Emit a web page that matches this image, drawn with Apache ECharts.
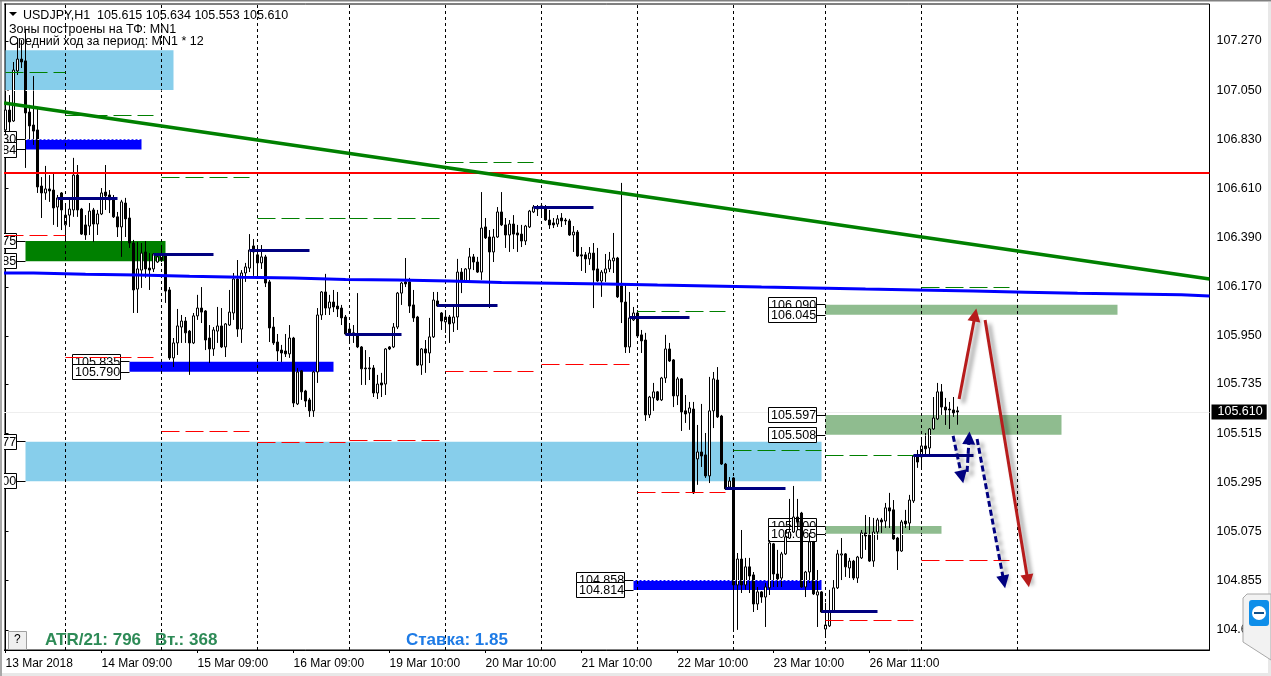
<!DOCTYPE html>
<html lang="en">
<head>
	<meta charset="UTF-8">
	<title>USDJPY,H1</title>
	<script type="text/javascript" src="https://cdn.jsdelivr.net/npm/echarts@6/dist/echarts.min.js"></script>
	<style type="text/css">
	html,body{margin: 0;padding: 0;background: #fff;}
	#container{width: 1271px;height: 676px;}
	</style>
</head>
<body>
	<div id="container"></div>
	<script type="text/javascript">
		// candles per day: [open, close, low, high]
		var mar13 = [[106.872,106.961,106.849,106.988],[106.961,106.908,106.863,107.028],[106.912,107.140,106.908,107.176],[107.136,107.189,107.118,107.283],[107.189,107.176,107.149,107.274],[107.181,106.948,106.702,107.319],[106.952,106.890,106.827,106.984],[106.894,106.867,106.805,107.113],[106.872,106.617,106.590,106.975],[106.621,106.590,106.478,106.661],[106.590,106.608,106.559,106.711],[106.608,106.599,106.550,106.670],[106.603,106.523,106.447,106.675],[106.527,106.568,106.438,106.581],[106.590,106.514,106.424,106.594]];
		var mar14 = [[106.447,106.491,106.380,106.536],[106.491,106.518,106.438,106.568],[106.514,106.670,106.483,106.747],[106.670,106.514,106.483,106.715],[106.518,106.406,106.402,106.523],[106.447,106.402,106.380,106.491],[106.442,106.509,106.402,106.545],[106.514,106.451,106.371,106.523],[106.451,106.496,106.402,106.514],[106.496,106.590,106.491,106.612],[106.594,106.577,106.514,106.715],[106.581,106.559,106.500,106.603],[106.559,106.483,106.478,106.581],[106.483,106.438,106.393,106.505],[106.438,106.550,106.304,106.559],[106.545,106.474,106.393,106.568],[106.478,106.366,106.344,106.523],[106.366,106.156,106.053,106.380],[106.160,106.250,106.053,106.371],[106.245,106.321,106.165,106.366],[106.326,106.250,106.210,106.375],[106.254,106.245,106.156,106.321],[106.250,106.317,106.236,106.321],[106.281,106.304,106.277,106.321]];
		var mar15 = [[106.290,106.317,106.281,106.357],[106.308,106.151,106.098,106.321],[106.156,105.852,105.843,106.169],[105.852,105.919,105.811,105.941],[105.919,105.995,105.865,106.071],[105.990,106.017,105.919,106.044],[106.017,105.964,105.919,106.035],[105.972,105.919,105.776,105.977],[105.919,106.040,105.914,106.053],[106.040,106.075,106.022,106.134],[106.075,106.057,106.008,106.169],[106.062,105.932,105.887,106.066],[105.941,105.892,105.829,105.999],[105.892,105.977,105.861,105.990],[105.972,105.995,105.919,106.080],[105.995,105.901,105.896,106.075],[105.901,106.004,105.856,106.008],[105.999,106.057,105.995,106.156],[106.053,106.205,106.022,106.232],[106.205,105.981,105.946,106.290],[105.981,106.232,105.919,106.245],[106.232,106.259,106.192,106.277],[106.254,106.335,106.236,106.406],[106.353,106.326,106.219,106.384]];
		var mar16 = [[106.313,106.277,106.223,106.348],[106.277,106.304,106.250,106.357],[106.304,106.187,106.169,106.313],[106.192,105.986,105.923,106.201],[105.990,105.919,105.910,106.035],[105.923,105.883,105.838,105.959],[105.887,105.874,105.834,105.910],[105.883,105.870,105.856,105.959],[105.870,105.941,105.852,105.999],[105.941,105.650,105.632,105.946],[105.646,105.789,105.641,105.807],[105.794,105.700,105.664,105.798],[105.704,105.659,105.632,105.709],[105.664,105.615,105.588,105.673],[105.615,105.789,105.588,105.794],[105.789,106.044,105.740,106.075],[106.044,106.147,106.022,106.151],[106.147,106.075,106.044,106.228],[106.075,106.102,106.044,106.134],[106.102,106.080,106.057,106.156],[106.084,106.071,106.035,106.147],[106.075,106.031,105.999,106.089],[106.035,105.959,105.955,106.044]];
		var mar19 = [[105.981,105.959,105.914,105.999],[105.964,105.955,105.919,105.999],[105.955,105.901,105.896,106.142],[105.901,105.803,105.731,105.905],[105.807,105.803,105.731,105.887],[105.807,105.803,105.753,105.856],[105.807,105.695,105.677,105.820],[105.695,105.735,105.668,105.776],[105.740,105.731,105.677,105.785],[105.735,105.892,105.686,105.896],[105.901,105.892,105.887,105.905],[105.901,105.990,105.896,106.008],[105.990,106.142,105.981,106.147],[106.142,106.187,106.089,106.192],[106.192,106.183,106.169,106.299],[106.192,106.084,106.053,106.210],[106.089,106.031,106.013,106.156],[106.035,105.820,105.816,106.040],[105.820,105.892,105.776,105.896],[105.892,105.874,105.785,105.932],[105.874,105.946,105.829,106.031],[105.946,106.111,105.941,106.147],[106.107,106.084,106.080,106.147],[106.053,106.017,105.977,106.057]];
		var mar20 = [[106.013,106.035,105.964,106.066],[106.035,106.004,105.919,106.044],[106.008,106.035,105.968,106.080],[106.035,106.236,105.977,106.295],[106.236,106.192,106.142,106.254],[106.192,106.250,106.187,106.254],[106.250,106.304,106.192,106.344],[106.304,106.281,106.245,106.317],[106.281,106.236,106.232,106.304],[106.236,106.433,106.201,106.594],[106.438,106.389,106.384,106.478],[106.393,106.326,106.075,106.424],[106.326,106.393,106.281,106.429],[106.393,106.505,106.389,106.527],[106.505,106.447,106.442,106.594],[106.447,106.402,106.344,106.478],[106.402,106.451,106.326,106.469],[106.451,106.406,106.339,106.491],[106.411,106.402,106.326,106.447],[106.406,106.375,106.348,106.447],[106.375,106.442,106.357,106.447],[106.438,106.509,106.433,106.514],[106.505,106.527,106.500,106.536],[106.527,106.518,106.487,106.536]];
		var mar21 = [[106.532,106.523,106.491,106.545],[106.527,106.469,106.465,106.536],[106.469,106.447,106.429,106.514],[106.456,106.447,106.433,106.478],[106.451,106.474,106.438,106.491],[106.478,106.465,106.438,106.500],[106.469,106.465,106.447,106.478],[106.465,106.402,106.398,106.474],[106.402,106.415,106.326,106.442],[106.415,106.308,106.304,106.424],[106.313,106.308,106.241,106.348],[106.313,106.295,106.232,106.326],[106.295,106.321,106.268,106.348],[106.321,106.245,106.075,106.366],[106.250,106.196,106.192,106.344],[106.196,106.236,106.125,106.245],[106.232,106.250,106.192,106.317],[106.250,106.290,106.236,106.326],[106.286,106.299,106.232,106.411],[106.299,106.125,106.120,106.304],[106.174,106.102,106.008,106.635],[106.102,105.901,105.874,106.187],[105.901,106.031,105.874,106.147],[106.022,106.053,106.017,106.080]];
		var mar22 = [[106.053,105.950,105.946,106.066],[105.955,105.928,105.874,105.977],[105.932,105.597,105.570,105.964],[105.597,105.677,105.583,105.682],[105.673,105.700,105.615,105.740],[105.700,105.664,105.659,105.704],[105.664,105.762,105.659,105.767],[105.762,105.892,105.740,105.955],[105.892,105.838,105.834,105.919],[105.843,105.682,105.632,105.847],[105.682,105.758,105.641,105.767],[105.758,105.610,105.525,105.762],[105.615,105.601,105.561,105.686],[105.606,105.628,105.530,105.655],[105.623,105.248,105.243,105.655],[105.400,105.431,105.284,105.552],[105.431,105.413,105.364,105.646],[105.418,105.324,105.315,105.516],[105.324,105.615,105.292,105.767],[105.615,105.758,105.538,105.789],[105.753,105.588,105.583,105.811],[105.592,105.377,105.373,105.597],[105.377,105.266,105.261,105.382],[105.274,105.301,105.261,105.319]];
		var mar23 = [[105.315,104.836,104.626,105.319],[104.836,104.952,104.635,104.979],[104.952,104.836,104.800,105.082],[104.836,104.917,104.814,104.957],[104.917,104.876,104.800,104.957],[104.881,104.751,104.715,104.894],[104.751,104.805,104.724,104.827],[104.805,104.782,104.756,104.809],[104.782,104.827,104.648,104.845],[104.823,105.024,104.791,105.037],[105.020,104.885,104.827,105.024],[104.885,104.863,104.827,104.993],[104.867,104.975,104.827,104.984],[104.975,105.051,104.970,105.082],[105.046,105.073,105.042,105.221],[105.073,105.140,105.069,105.279],[105.140,105.118,105.082,105.221],[105.158,104.827,104.823,105.163],[104.827,104.894,104.782,104.899],[104.894,105.029,104.845,105.069],[105.029,104.796,104.791,105.033],[104.791,104.805,104.648,104.903],[104.805,104.715,104.711,104.809]];
		var mar26 = [[104.639,104.657,104.603,104.756],[104.653,104.715,104.648,104.814],[104.720,104.823,104.715,104.858],[104.823,104.975,104.818,104.993],[104.970,104.975,104.858,105.046],[104.975,104.917,104.872,104.979],[104.912,104.943,104.867,104.957],[104.943,104.867,104.858,104.948],[104.867,104.961,104.845,104.966],[104.957,105.069,104.952,105.082],[105.069,105.055,104.993,105.149],[105.060,104.943,104.939,105.140],[104.943,105.073,104.917,105.136],[105.073,105.127,105.038,105.136],[105.127,105.118,105.069,105.136],[105.122,105.181,105.091,105.203],[105.181,105.167,105.091,105.248],[105.172,105.042,105.038,105.216],[105.046,104.988,104.903,105.051],[104.988,105.118,104.984,105.127],[105.122,105.109,105.091,105.172],[105.113,105.216,105.082,105.239],[105.212,105.413,105.203,105.418],[105.413,105.386,105.360,105.440],[105.409,105.458,105.360,105.485],[105.458,105.445,105.418,105.516],[105.449,105.534,105.409,105.538],[105.534,105.583,105.530,105.677],[105.579,105.700,105.574,105.740],[105.700,105.632,105.597,105.735],[105.632,105.619,105.552,105.673],[105.623,105.619,105.534,105.655],[105.619,105.606,105.588,105.677],[105.615,105.610,105.553,105.634]];

		// axis
		var priceTicks = [107.270,107.050,106.830,106.610,106.390,106.170,105.950,105.735,105.515,105.295,105.075,104.855,104.635];
		var timeTickBars = [0,24,48,72,96,120,144,168,192,216];
		var timeTickLabels = ['13 Mar 2018','14 Mar 09:00','15 Mar 09:00','16 Mar 09:00','19 Mar 10:00','20 Mar 10:00','21 Mar 10:00','22 Mar 10:00','23 Mar 10:00','26 Mar 11:00'];
		var separatorBars = [15,39,63,86,110,134,158,182,205,229,253];
		var lastPrice = 105.610;

		// zones: [fromBar, toBar, upper, lower]
		var skyZones = [[0,42,107.229,107.051],[5,204,105.477,105.300]];
		var blueZones = [[5,34,106.830,106.784],[31,82,105.835,105.790],[157,204,104.858,104.814]];
		var forestZones = [[5,40,106.375,106.285]];
		var sageZones = [[205,278,106.090,106.045],[205,264,105.597,105.508],[205,234,105.100,105.065]];

		// zone price tags: [bar where the tag ends, bar where the zone starts, price]
		var zoneTags = [[2.625,5,106.830],[2.625,5,106.784],[2.625,5,106.375],[2.625,5,106.285],[2.625,5,105.477],[2.625,5,105.300],[28.5,31,105.835],[28.5,31,105.790],[154.5,157,104.858],[154.5,157,104.814],[202.6,205,106.090],[202.6,205,106.045],[202.6,205,105.597],[202.6,205,105.508],[202.6,205,105.100],[202.6,205,105.065]];

		// white dotted zone edges: [fromBar, toBar, price]
		var dottedEdges = [[0,42,107.051],[5,34,106.830],[157,204,104.858],[205,264,105.508],[205,234,105.065]];

		// daily dashes: [fromBar, toBar, price]
		var highDashes = [[0,15,107.131],[15,37,106.939],[39,61,106.659],[63,85,106.478],[86,108.5,106.478],[110,132,106.729],[134,156,106.679],[158,180,106.062],[182,204,105.440],[205,227,105.415],[229,251,106.169]];
		var lowDashes = [[0,15,106.402],[15,37,105.856],[39,61,105.525],[63,85,105.476],[86,108.5,105.485],[110,132,105.794],[134,156,105.825],[158,180,105.252],[205,227,104.679],[229,251,104.948]];

		// navy session levels: [fromBar, toBar, price]
		var sessionLevels = [[13,28,106.567],[37,52,106.317],[61,76,106.335],[85,99,105.959],[108,123,106.089],[132,147,106.527],[156,171,106.035],[180,195,105.270],[204,218,104.720],[227,242,105.417]];

		var redLevel = 106.684;
		var trendBars = [-0.375,301];
		var trendPrices = [106.993,106.205];
		var stepBars = [-0.375,7,20,33,46,59,72,85,98,111,124,137,150,163,176,189,202,215,228,242,255,268,281,294,301];
		var stepPrices = [106.232,106.226,106.223,106.217,106.213,106.210,106.203,106.201,106.196,106.189,106.186,106.183,106.178,106.174,106.169,106.165,106.160,106.156,106.151,106.146,106.141,106.138,106.134,106.129,106.129];

		// forecast arrows: [fromBar, fromPrice, toBar, toPrice]
		var redArrows = [[238.4,105.668,242.4,106.044],[244.9,106.022,255.6,104.854]];
		var navyArrows = [[236.9,105.503,239.1,105.319],[240.4,105.342,240.9,105.494],[242.9,105.489,249.6,104.850]];

		var bars = [].concat(mar13,mar14,mar15,mar16,mar19,mar20,mar21,mar22,mar23,mar26);
		var candleData = bars.map(function(b,i){ return [i,b[0],b[1],b[2],b[3]]; });

		function areaItems(list,color){
			return list.map(function(z){
				return [{xAxis:z[0],yAxis:z[2],itemStyle:{color:color}},{xAxis:z[1],yAxis:z[3]}];
			});
		}
		function hLines(list,style){
			return list.map(function(l){
				return [{coord:[l[0],l[2]],lineStyle:style},{coord:[l[1],l[2]]}];
			});
		}
		function arrowLines(list,style){
			return list.map(function(a){
				return [{coord:[a[0],a[1]],lineStyle:style},{coord:[a[2],a[3]]}];
			});
		}

		var uiFont = '"Liberation Sans", Arial, sans-serif';
		var shadow = {shadowColor:'rgba(0,0,0,0.45)',shadowBlur:4,shadowOffsetX:4,shadowOffsetY:4};
		var redArrowStyle = Object.assign({color:'#b71c1c',width:3,type:'solid'},shadow);
		var navyArrowStyle = Object.assign({color:'#000080',width:3,type:[6,3]},shadow);

		var separators = separatorBars.map(function(b){
			return {xAxis:b,lineStyle:{color:'#000',width:1,type:[3,3]}};
		});
		var tagLines = zoneTags.map(function(t){
			return [{coord:[t[0],t[2]],lineStyle:{color:'#000',width:1,type:'solid'}},{coord:[t[1],t[2]]}];
		});

		// white box with the price, right edge on the tag point
		function renderTag(params,api){
			var p = api.coord([api.value(0),api.value(1)]);
			var right = Math.round(p[0]);
			var mid = Math.round(p[1]);
			return {
				type: 'group',
				children: [
					{type:'rect',shape:{x:right-47.5,y:mid-7.5,width:48,height:15},style:{fill:'#fff',stroke:'#000',lineWidth:1}},
					{type:'text',x:right-45,y:mid+0.5,style:{text:api.value(1).toFixed(3),font:'12.5px '+uiFont,fill:'#000',verticalAlign:'middle'}}
				]
			};
		}

		var dom = document.getElementById("container");
		var myChart = echarts.init(dom);
		var option = {
			animation: false,
			backgroundColor: '#fff',
			grid: {
				left: 4, top: 4, width: 1205.5, height: 646,
				show: true, borderColor: '#000', borderWidth: 1, backgroundColor: '#fff'
			},
			xAxis: {
				type: 'value',
				min: -0.375,
				max: 301,
				axisLine: {onZero: false, lineStyle: {color: '#000'}},
				axisTick: {customValues: timeTickBars, length: 3, lineStyle: {color: '#000'}},
				axisLabel: {
					customValues: timeTickBars,
					align: 'left',
					margin: 8,
					color: '#000',
					fontFamily: uiFont,
					fontSize: 12,
					formatter: function(v){ return timeTickLabels[timeTickBars.indexOf(v)] || ''; }
				},
				splitLine: {show: false}
			},
			yAxis: {
				type: 'value',
				position: 'right',
				min: 104.545,
				max: 107.4355,
				axisLine: {show: true, lineStyle: {color: '#000'}},
				axisTick: {show: true, customValues: priceTicks, length: 3, lineStyle: {color: '#000'}},
				axisLabel: {
					customValues: priceTicks,
					margin: 7,
					color: '#000',
					fontFamily: uiFont,
					fontSize: 12.5,
					formatter: function(v){ return v.toFixed(3); }
				},
				splitLine: {show: false}
			},
			series: [
				{
					name: 'zones', type: 'line', data: [], z: 1, silent: true,
					markArea: {
						silent: true, z: 1, label: {show: false},
						data: [].concat(areaItems(skyZones,'#87ceeb'),areaItems(blueZones,'#0000ff'),areaItems(forestZones,'#008000'),areaItems(sageZones,'#8fbc8f'))
					}
				},
				{
					name: 'tags', type: 'custom', z: 2, silent: true, clip: false,
					renderItem: renderTag,
					encode: {x: 0, y: 1},
					data: zoneTags.map(function(t){ return [t[0],t[2]]; }),
					markLine: {silent: true, symbol: 'none', label: {show: false}, z: 1, data: tagLines}
				},
				{
					name: 'USDJPY', type: 'candlestick', z: 3, barWidth: 3, silent: true,
					encode: {x: 0, y: [1,2,3,4]},
					itemStyle: {color: '#fff', color0: '#000', borderColor: '#000', borderColor0: '#000', borderWidth: 1},
					data: candleData,
					clip: true
				},
				{
					name: 'levels', type: 'line', data: [], z: 4, silent: true,
					markLine: {
						silent: true, symbol: 'none', label: {show: false}, z: 4,
						data: [].concat(
							separators,
							hLines(dottedEdges,{color:'#fff',width:1,type:[2,2]}),
							hLines(highDashes,{color:'#008000',width:1,type:[18,6]}),
							hLines(lowDashes,{color:'#ff0000',width:1,type:[18,6]}),
							hLines(sessionLevels,{color:'#000080',width:3,type:'solid'}),
							[{yAxis:redLevel,lineStyle:{color:'#ff0000',width:2,type:'solid'}}]
						)
					}
				},
				{
					name: 'step', type: 'line', step: 'end', showSymbol: false, z: 5, silent: true,
					lineStyle: {color: '#0000ff', width: 3},
					data: stepBars.map(function(b,i){ return [b,stepPrices[i]]; })
				},
				{
					name: 'trend', type: 'line', showSymbol: false, z: 5, silent: true,
					lineStyle: {color: '#008000', width: 3.5},
					data: trendBars.map(function(b,i){ return [b,trendPrices[i]]; })
				},
				{
					name: 'arrows', type: 'line', data: [], z: 6, silent: true,
					markLine: {
						silent: true, z: 6, symbol: ['none','triangle'], symbolSize: 13, label: {show: false},
						data: [].concat(arrowLines(redArrows,redArrowStyle),arrowLines(navyArrows,navyArrowStyle))
					}
				},
				{
					name: 'last', type: 'line', data: [], z: 1, silent: true,
					markLine: {
						silent: true, z: 1, symbol: 'none',
						data: [{
							yAxis: lastPrice,
							lineStyle: {color: '#eeeeee', width: 1, type: 'solid'},
							label: {
								show: true, position: 'end', distance: 2,
								formatter: lastPrice.toFixed(3),
								color: '#fff', backgroundColor: '#000',
								fontFamily: uiFont, fontSize: 12.5, padding: [1,4,1,6]
							}
						}]
					}
				}
			],
			graphic: [
				{type:'rect',z:90,shape:{x:0,y:0,width:4,height:652},style:{fill:'#fff'}},
				{type:'rect',z:91,shape:{x:0,y:0,width:2,height:676},style:{fill:'#a8a8a8'}},
				{type:'rect',z:91,shape:{x:0,y:0,width:1271,height:1.5},style:{fill:'#808080'}},
				{type:'rect',z:91,shape:{x:1268,y:2,width:3,height:674},style:{fill:'#e8e8e8'}},
				{type:'rect',z:91,shape:{x:2,y:673,width:1269,height:3},style:{fill:'#e8e8e8'}},
				{type:'polygon',z:92,shape:{points:[[9,12],[17,12],[13,16]]},style:{fill:'#000'}},
				{type:'text',z:92,x:23,y:9,style:{text:'USDJPY,H1  105.615 105.634 105.553 105.610',font:'12.5px '+uiFont,fill:'#000'}},
				{type:'text',z:92,x:9,y:23,style:{text:'Зоны построены на ТФ: MN1',font:'12.5px '+uiFont,fill:'#000'}},
				{type:'text',z:92,x:9,y:35,style:{text:'Средний ход за период: MN1 * 12',font:'12.5px '+uiFont,fill:'#000'}},
				{type:'rect',z:92,shape:{x:8.5,y:631.5,width:18,height:18},style:{fill:'#f0f0f0',stroke:'#a0a0a0'}},
				{type:'text',z:93,x:14,y:634,style:{text:'?',font:'12px '+uiFont,fill:'#000'}},
				{type:'text',z:92,x:45,y:632,style:{text:'ATR/21: 796',font:'bold 17px '+uiFont,fill:'#2e8b57'}},
				{type:'text',z:92,x:155,y:632,style:{text:'Вт.: 368',font:'bold 17px '+uiFont,fill:'#2e8b57'}},
				{type:'text',z:92,x:406,y:632,style:{text:'Ставка: 1.85',font:'bold 17px '+uiFont,fill:'#1e7be6'}},
				{type:'polygon',z:94,shape:{points:[[1247,594],[1271,594],[1271,660],[1243,642],[1243,598]]},style:{fill:'#f2f2f2',stroke:'#a8a8a8'}},
				{type:'rect',z:95,shape:{x:1249,y:600,width:20,height:26,r:3},style:{fill:'#0e8ee9'}},
				{type:'circle',z:96,shape:{cx:1259,cy:613,r:7},style:{fill:'#fff'}},
				{type:'rect',z:97,shape:{x:1254,y:612,width:10,height:2},style:{fill:'#0e4f8a'}}
			]
		};
		myChart.setOption(option, true);
	</script>
</body>
</html>
